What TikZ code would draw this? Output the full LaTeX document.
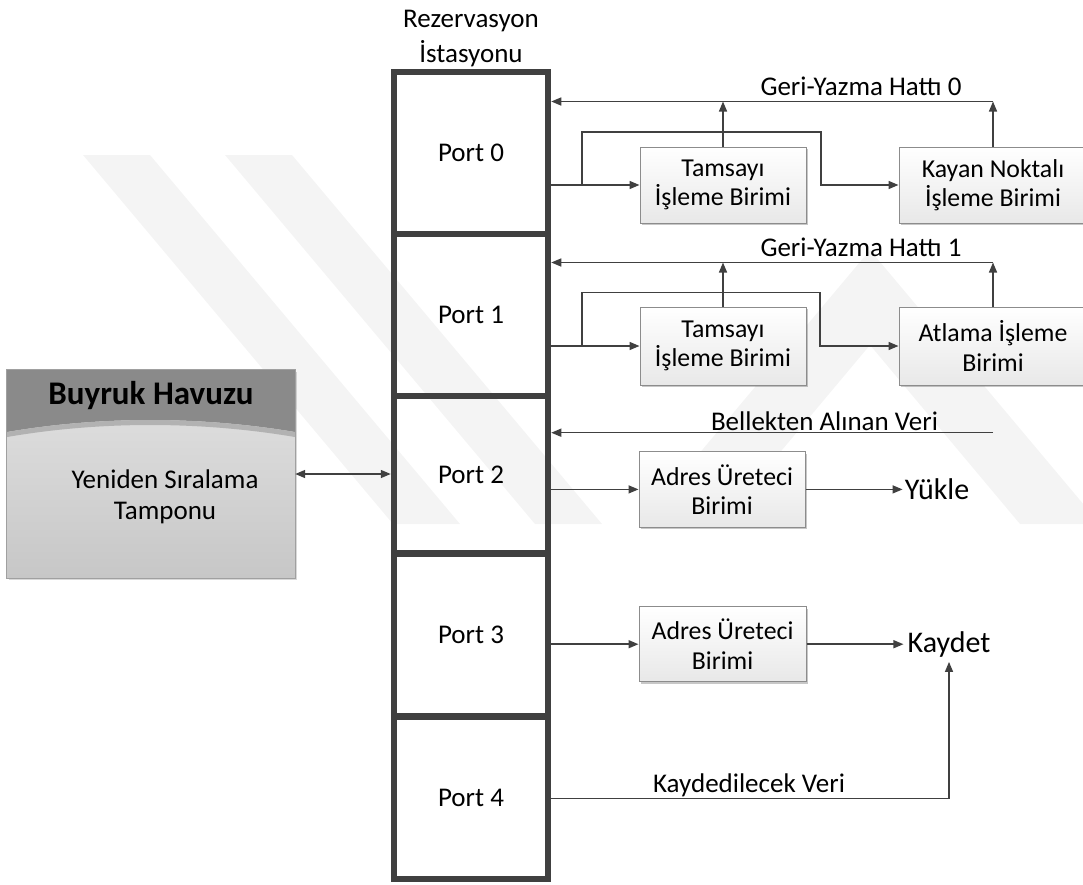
\documentclass[tikz,border=0pt]{standalone}
\usepackage{fontspec}
\setmainfont{Carlito}
\usetikzlibrary{arrows.meta,shadows}
\definecolor{ink}{HTML}{404040}
\definecolor{frame}{HTML}{404040}
\definecolor{boxline}{HTML}{8C8C8C}
\definecolor{wmark}{HTML}{F4F4F4}
\definecolor{hdr}{HTML}{8A8A8A}
\definecolor{hdrband}{HTML}{B2B2B2}
\definecolor{poolline}{HTML}{A0A0A0}
\begin{document}
\begin{tikzpicture}[x=1pt,y=-1pt,
  txt/.style={font=\fontsize{27}{32}\selectfont, inner sep=0pt, text=black},
  bigtxt/.style={font=\fontsize{30}{35}\selectfont, text=black},
  port/.style={draw=frame, line width=6.5pt, minimum width=154pt,
    font=\fontsize{27}{32}\selectfont},
  unit/.style={draw=boxline, line width=1pt, top color=white, bottom color=black!9,
    align=center, font=\fontsize{25.8}{29.5}\selectfont, inner sep=0pt,
    minimum height=76pt,
    drop shadow={shadow xshift=1.8pt, shadow yshift=-1.8pt, fill=black, opacity=0.22}},
  wire/.style={draw=ink, line width=1.5pt},
  arr/.style={wire, -{Triangle[length=10pt,width=8pt]}},
  dbl/.style={wire, {Triangle[length=10pt,width=8pt]}-{Triangle[length=10pt,width=8pt]}},
]
\useasboundingbox (0,0) rectangle (1083,884);
\clip (0,0) rectangle (1083,884);

% faint background emblem
\fill[wmark] (83,155) -- (150,155) -- (460,524) -- (393,524) -- cycle;
\fill[wmark] (225,155) -- (292,155) -- (602,524) -- (535,524) -- cycle;
\fill[wmark] (640,524) -- (870,250) -- (1100,524) -- (1020,524) -- (870,345) -- (720,524) -- cycle;

% reservation station title
\node[txt, anchor=base] (ttl1) at (471,27.7) {Rezervasyon};
\node[txt, anchor=base] (ttl2) at (471,62.7) {İstasyonu};

% reservation station ports
\node[port, minimum height=162pt]   (p0) at (471,153)    {Port 0};
\node[port, minimum height=162pt]   (p1) at (471,315)    {Port 1};
\node[port, minimum height=157.5pt] (p2) at (471,474.75) {Port 2};
\node[port, minimum height=163pt]   (p3) at (471,635)    {Port 3};
\node[port, minimum height=162.5pt] (p4) at (471,797.75) {Port 4};

% instruction pool
\node[minimum width=288pt, minimum height=208pt, inner sep=0pt,
  top color=black!11, bottom color=black!22,
  drop shadow={shadow xshift=1.5pt, shadow yshift=-1.5pt, fill=black, opacity=0.15}]
  (pool) at (151,474) {};
\fill[hdr] (pool.north west) -- (pool.north east) -- (295,432)
  .. controls (200,416) and (100,416) .. (7,432) -- cycle;
\fill[hdrband] (7,432) .. controls (100,416) and (200,416) .. (295,432)
  -- (295,437) .. controls (200,421) and (100,421) .. (7,437) -- cycle;
\draw[poolline, line width=1pt] (pool.north west) rectangle (pool.south east);
\node[font=\bfseries\fontsize{33}{38}\selectfont, inner sep=0pt] (poolttl) at (151,396) {Buyruk Havuzu};
\node[txt, align=center, font=\fontsize{27}{31.5}\selectfont] (rob) at (165,497)
  {Yeniden Sıralama\\Tamponu};
\draw[dbl] (pool.east) -- (pool.east -| p2.west);

% port 0: integer and floating point units
\node[unit, minimum width=166pt] (int0) at (723,185) {Tamsayı\\İşleme Birimi};
\node[unit, minimum width=188pt] (fpu)  at (993,185) {Kayan Noktalı\\İşleme Birimi};
\coordinate (wb0) at (0,101.5);
\coordinate (br0a) at (582,185);
\coordinate (br0b) at (821,132);
\draw[arr] (p0.east |- int0.west) -- (int0.west);
\draw[arr] (br0a) |- (br0b) |- (fpu.west);
\draw[arr] (int0.north) -- (int0.north |- wb0);
\draw[arr] (fpu.north) -- (fpu.north |- wb0);
\draw[arr] (fpu.north |- wb0) -- (p0.east |- wb0);
\node[txt] (wb0lbl) at (861,86) {Geri-Yazma Hattı 0};

% port 1: integer and branch units
\node[unit, minimum width=166pt, minimum height=78pt] (int1) at (723,346) {Tamsayı\\İşleme Birimi};
\node[unit, minimum width=188pt, minimum height=78pt] (jmp)  at (993,346) {Atlama İşleme\\Birimi};
\coordinate (wb1) at (0,262.5);
\coordinate (br1a) at (582,346);
\coordinate (br1b) at (820,292.6);
\draw[arr] (p1.east |- int1.west) -- (int1.west);
\draw[arr] (br1a) |- (br1b) |- (jmp.west);
\draw[arr] (int1.north) -- (int1.north |- wb1);
\draw[arr] (jmp.north) -- (jmp.north |- wb1);
\draw[arr] (jmp.north |- wb1) -- (p1.east |- wb1);
\node[txt] (wb1lbl) at (861,247.5) {Geri-Yazma Hattı 1};

% port 2: load path
\coordinate (mem) at (993,432.7);
\draw[arr] (mem) -- (mem -| p2.east);
\node[txt] (memlbl) at (824.5,421) {Bellekten Alınan Veri};
\node[unit, minimum width=166pt, minimum height=75.3pt] (ag0) at (722,489.4) {Adres Üreteci\\Birimi};
\node[bigtxt, inner sep=2pt] (ld) at (937,489.4) {Yükle};
\draw[arr] (p2.east |- ag0.west) -- (ag0.west);
\draw[arr] (ag0.east) -- (ld.west);

% port 3 and port 4: store path
\node[unit, minimum width=167pt, minimum height=75pt] (ag1) at (722.5,644.2) {Adres Üreteci\\Birimi};
\node[bigtxt, anchor=base, text depth=6pt, inner ysep=3pt, inner xsep=4pt] (st) at (949,652.7) {Kaydet};
\draw[arr] (p3.east |- ag1.west) -- (ag1.west);
\draw[arr] (ag1.east) -- (ag1.east -| st.west);
\coordinate (strow) at (0,798.3);
\draw[arr] (p4.east |- strow) -| (st.south);
\node[txt] (stlbl) at (749,785) {Kaydedilecek Veri};
\end{tikzpicture}
\end{document}
